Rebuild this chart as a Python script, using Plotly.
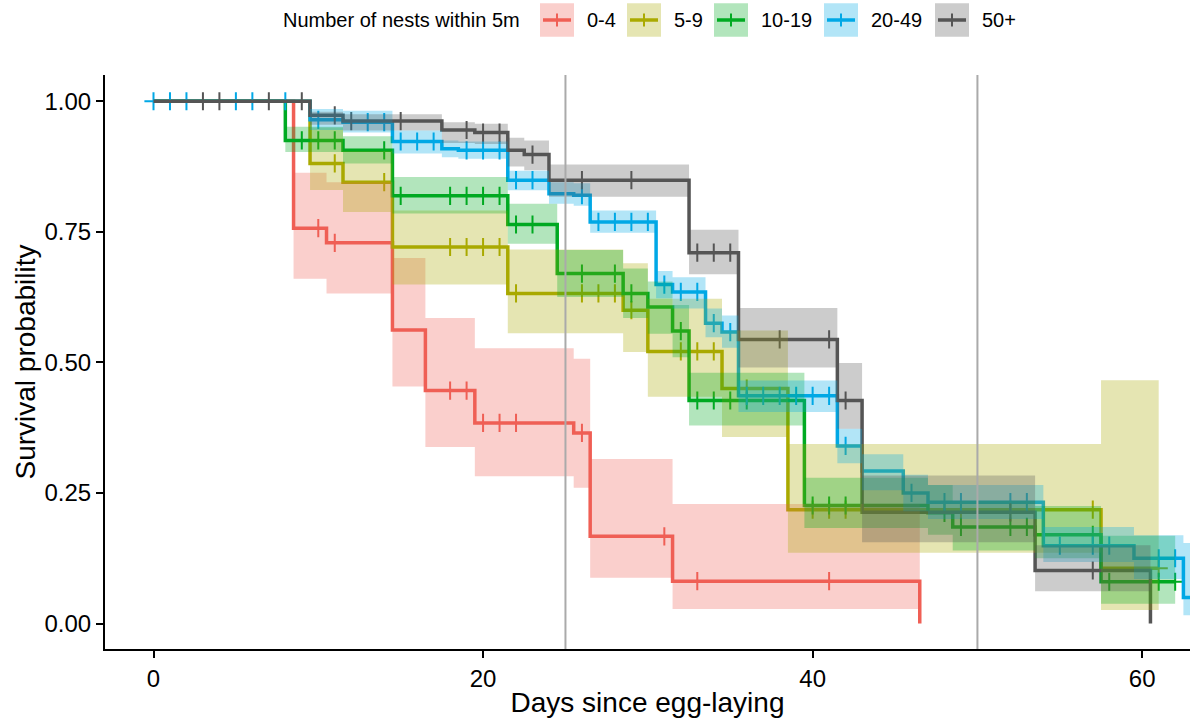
import numpy as np
import plotly.graph_objects as go

# Kaplan-Meier estimates by number of nests within 5 m
groups = ["0-4", "5-9", "10-19", "20-49", "50+"]
colors = ["#F05F55", "#AAAA00", "#00AA22", "#00A8E6", "#555555"]
fills = ["rgba(240,95,85,0.3)", "rgba(170,170,0,0.3)", "rgba(0,170,34,0.3)",
         "rgba(0,168,230,0.3)", "rgba(85,85,85,0.3)"]

# 0-4
t_04 = [0, 8.5, 10.5, 14.5, 16.5, 19.5, 25.5, 26.5, 31.5, 46.5]
s_04 = [1.0, 0.757, 0.729, 0.562, 0.446, 0.384, 0.365, 0.167, 0.081, 0.0]
hi_04 = [1.0, 0.863, 0.845, 0.70, 0.585, 0.527, 0.507, 0.315, 0.229, 0.0]
lo_04 = [1.0, 0.660, 0.632, 0.454, 0.338, 0.282, 0.260, 0.0875, 0.028, 0.0]
c_04 = [10, 11, 18, 19, 20, 21, 22, 26, 31, 33, 41]

# 5-9
t_59 = [0, 9.5, 11.5, 14.5, 21.5, 28.5, 30, 34.5, 38.5, 57.5, 61]
s_59 = [1.0, 0.881, 0.845, 0.721, 0.632, 0.600, 0.521, 0.450, 0.218, 0.106, 0.106]
hi_59 = [1.0, 0.950, 0.905, 0.791, 0.716, 0.690, 0.622, 0.561, 0.3435, 0.466, 0.466]
lo_59 = [1.0, 0.830, 0.788, 0.649, 0.556, 0.520, 0.434, 0.357, 0.1356, 0.026, 0.026]
c_59 = [11, 14, 18, 19, 20, 21, 22, 26, 27, 28, 29, 32, 33, 34, 36, 40, 41, 42,
        49, 52, 57, 61]

# 10-19
t_1019 = [0, 8, 11.5, 14.5, 21.5, 24.5, 28.5, 30, 31.5, 32.5, 39.5, 47, 48.5,
          53.5, 57.5, 62]
s_1019 = [1.0, 0.925, 0.906, 0.819, 0.764, 0.670, 0.632, 0.606, 0.560, 0.427,
          0.226, 0.212, 0.185, 0.170, 0.080, 0.080]
hi_1019 = [1.0, 0.951, 0.933, 0.855, 0.804, 0.715, 0.680, 0.655, 0.610, 0.480,
           0.279, 0.265, 0.235, 0.225, 0.168, 0.168]
lo_1019 = [1.0, 0.903, 0.881, 0.785, 0.727, 0.625, 0.585, 0.555, 0.510, 0.379,
           0.183, 0.170, 0.140, 0.125, 0.038, 0.038]
c_1019 = [9, 10, 11, 14, 15, 18, 19, 20, 21, 22, 23, 26, 28, 29, 32, 33, 34, 35,
          36, 40, 41, 42, 48, 49, 52, 53, 54, 57, 58, 61, 62]

# 20-49
t_2049 = [0, 9.5, 11.5, 14.5, 17.5, 18.5, 21.5, 24, 25.5, 26.5, 30.5, 31.5, 33.5,
          34.5, 35.5, 41.5, 43, 45.5, 47, 54, 59.5, 62.5, 64]
s_2049 = [1.0, 0.9645, 0.960, 0.923, 0.909, 0.906, 0.849, 0.823, 0.820, 0.769,
          0.649, 0.635, 0.575, 0.558, 0.436, 0.340, 0.292, 0.250, 0.2324, 0.149,
          0.125, 0.050, 0.050]
hi_2049 = [1.0, 0.985, 0.982, 0.944, 0.925, 0.923, 0.867, 0.845, 0.843, 0.791,
           0.675, 0.663, 0.603, 0.590, 0.4655, 0.373, 0.324, 0.285, 0.265, 0.185,
           0.169, 0.154, 0.154]
lo_2049 = [1.0, 0.945, 0.940, 0.900, 0.893, 0.890, 0.8295, 0.804, 0.800, 0.748,
           0.623, 0.603, 0.548, 0.528, 0.405, 0.307, 0.255, 0.215, 0.200, 0.118,
           0.085, 0.016, 0.016]
c_2049 = [0, 1, 2, 5, 6, 8, 10, 13, 14, 15, 16, 17, 19, 20, 21, 22, 23, 26, 27,
          28, 29, 30, 31, 32, 33, 34, 35, 36, 37, 38, 39, 40, 41, 42, 46, 48, 49,
          52, 53, 55, 57, 58, 61, 62]

# 50+
t_50 = [0, 9.5, 11.5, 17.5, 19.5, 21.5, 22.5, 24, 32.5, 35.5, 41.5, 43, 53.5, 60.5]
s_50 = [1.0, 0.973, 0.962, 0.945, 0.940, 0.906, 0.898, 0.849, 0.710, 0.544,
        0.427, 0.213, 0.1015, 0.0]
hi_50 = [1.0, 0.980, 0.975, 0.960, 0.957, 0.930, 0.925, 0.879, 0.754, 0.604,
         0.499, 0.2835, 0.150, 0.0]
lo_50 = [1.0, 0.955, 0.944, 0.920, 0.918, 0.875, 0.868, 0.817, 0.6686, 0.490,
         0.373, 0.1558, 0.062, 0.0]
c_50 = [3, 4, 7, 9, 11, 12, 15, 19, 20, 21, 23, 26, 29, 33, 34, 35, 38, 41, 42,
        52, 57]

times = [t_04, t_59, t_1019, t_2049, t_50]
surv = [s_04, s_59, s_1019, s_2049, s_50]
upper = [hi_04, hi_59, hi_1019, hi_2049, hi_50]
lower = [lo_04, lo_59, lo_1019, lo_2049, lo_50]
censor = [c_04, c_59, c_1019, c_2049, c_50]


def step_value(t, s, x):
    idx = np.searchsorted(np.asarray(t), np.asarray(x, dtype=float), side="right") - 1
    return np.asarray(s)[idx]


fig = go.Figure()

# survival curves and censoring ticks
for g, col, t, s, c in zip(groups, colors, times, surv, censor):
    fig.add_trace(go.Scatter(x=t, y=s, mode="lines", line=dict(color=col, width=3.5, shape="hv"),
                             name=g, showlegend=False, hoverinfo="skip"))
    fig.add_trace(go.Scatter(x=c, y=step_value(t, s, c), mode="markers",
                             marker=dict(symbol="cross-thin", size=13,
                                         line=dict(color=col, width=2)),
                             showlegend=False, hoverinfo="skip"))

# confidence bands drawn over the curves
for fc, t, hi, lo in zip(fills, times, upper, lower):
    fig.add_trace(go.Scatter(x=t, y=lo, mode="lines", line=dict(width=0, shape="hv"),
                             showlegend=False, hoverinfo="skip"))
    fig.add_trace(go.Scatter(x=t, y=hi, mode="lines", line=dict(width=0, shape="hv"),
                             fill="tonexty", fillcolor=fc, showlegend=False,
                             hoverinfo="skip"))

# reference lines at 25 and 50 days
for xv in [25, 50]:
    fig.add_shape(type="line", xref="x", yref="paper", x0=xv, x1=xv, y0=0, y1=1,
                  line=dict(color="#AAAAAA", width=2), layer="above")

# legend drawn across the top
W, H = 1190, 718
ML, MR, MT, MB = 105, 0, 75, 69
pw, ph = W - ML - MR, H - MT - MB


def px(xp):
    return (xp - ML) / pw


def py(yp):
    return (H - MB - yp) / ph


font = "Liberation Sans, Arial, sans-serif"
fig.add_annotation(x=px(281), y=py(20), xref="paper", yref="paper", text="Number of nests within 5m",
                   showarrow=False, xanchor="left", yanchor="middle",
                   font=dict(family=font, size=20, color="black"))
box_left = [540, 627, 714, 824, 935]
for g, col, fc, bl in zip(groups, colors, fills, box_left):
    fig.add_shape(type="rect", xref="paper", yref="paper", x0=px(bl), x1=px(bl + 34),
                  y0=py(36.7), y1=py(3.3), fillcolor=fc, line=dict(width=0))
    fig.add_shape(type="line", xref="paper", yref="paper", x0=px(bl + 3), x1=px(bl + 31),
                  y0=py(20), y1=py(20), line=dict(color=col, width=3.5))
    fig.add_shape(type="line", xref="paper", yref="paper", x0=px(bl + 17), x1=px(bl + 17),
                  y0=py(13.5), y1=py(26.5), line=dict(color=col, width=2))
    fig.add_annotation(x=px(bl + 45), y=py(20), xref="paper", yref="paper", text=g,
                       showarrow=False, xanchor="left", yanchor="middle",
                       font=dict(family=font, size=20, color="black"))

fig.update_layout(
    width=W, height=H,
    margin=dict(l=ML, r=MR, t=MT, b=MB),
    plot_bgcolor="white", paper_bgcolor="white",
    font=dict(family=font, color="black"),
    showlegend=False,
    xaxis=dict(range=[-2.943, 62.9], tickvals=[0, 20, 40, 60], showgrid=False,
               zeroline=False, showline=True, linecolor="black", linewidth=2,
               ticks="outside", ticklen=7, tickwidth=2, tickcolor="black",
               tickfont=dict(size=24, color="black"),
               title=dict(text="Days since egg-laying", font=dict(size=28, color="black"),
                          standoff=6)),
    yaxis=dict(range=[-0.0488, 1.0503], tickvals=[0, 0.25, 0.5, 0.75, 1.0],
               ticktext=["0.00", "0.25", "0.50", "0.75", "1.00"], showgrid=False,
               zeroline=False, showline=True, linecolor="black", linewidth=2,
               ticks="outside", ticklen=7, tickwidth=2, tickcolor="black",
               tickfont=dict(size=24, color="black"),
               title=dict(text="Survival probability", font=dict(size=28, color="black"),
                          standoff=1)),
)

fig.write_html("out.html")
